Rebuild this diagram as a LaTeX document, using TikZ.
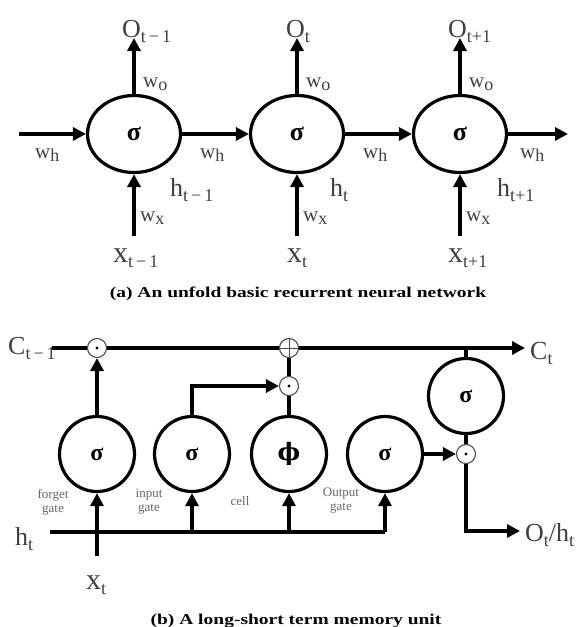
\documentclass[tikz,border=0pt]{standalone}
\usepackage{fontspec}
\setmainfont{Liberation Serif}
\newfontfamily\dvserif{DejaVu Serif}
\usetikzlibrary{arrows.meta,shapes.geometric}
\newcommand\lsb[1]{\raisebox{-5pt}{\fontsize{18}{18}\selectfont #1}}
\newcommand\wsb[1]{\raisebox{-3pt}{\fontsize{18}{18}\selectfont #1}}
\newcommand\mn{\,−\,}
\begin{document}
\begin{tikzpicture}[x=1pt,y=-1pt,
 ell/.style={ellipse, draw, line width=3.2pt, minimum width=93pt, minimum height=77pt, inner sep=0,
   font=\bfseries\fontsize{26}{26}\selectfont},
 gate/.style={circle, draw, line width=3.2pt, minimum size=75pt, inner sep=0,
   font=\bfseries\fontsize{24}{24}\selectfont},
 op/.style={circle, draw=black!70, line width=1.1pt, minimum size=19pt, inner sep=0, fill=white},
 arr/.style={line width=3.2pt, -{Triangle[length=13pt,width=13pt]}},
 ln/.style={line width=3.2pt},
 lbl/.style={text=black!75, font=\fontsize{26}{26}\selectfont, inner sep=0},
 xl/.style={text=black!75, font=\fontsize{30}{30}\selectfont, inner sep=0},
 wl/.style={text=black!75, font=\fontsize{21}{21}\selectfont, inner sep=0},
 tinyl/.style={text=black!60, font=\fontsize{13}{14}\selectfont, align=center, inner sep=0},
 capt/.style={font=\bfseries\fontsize{15}{15}\selectfont, inner sep=0}
]
\useasboundingbox (0,0) rectangle (581,627);

% ---------- (a) RNN ----------
\node[ell] (e1) at (134,134) {σ};
\node[ell] (e2) at (297,134) {σ};
\node[ell] (e3) at (460,134) {σ};
\coordinate (inL) at (19,134);
\coordinate (outR) at (568,134);
\foreach \n/\x in {1/134,2/297,3/460}{
  \coordinate (o\n) at (\x,38);
  \coordinate (xb\n) at (\x,236);
}
\draw[arr] (inL) -- (e1.west);
\draw[arr] (e1.east) -- (e2.west);
\draw[arr] (e2.east) -- (e3.west);
\draw[arr] (e3.east) -- (outR);
\foreach \n in {1,2,3}{
  \draw[arr] (e\n.north) -- (o\n);
  \draw[arr] (xb\n) -- (e\n.south);
}
% labels
\node[lbl, anchor=base west] (lo1) at (122,37) {O\lsb{t\mn1}};
\node[lbl, anchor=base west] (lo2) at (286,37) {O\lsb{t}};
\node[lbl, anchor=base west] (lo3) at (448,37) {O\lsb{t+1}};
\foreach \n/\x in {1/134,2/297,3/460}{
  \node[wl, anchor=base west] (lwo\n) at (\x+9,87) {w\wsb{o}};
  \node[wl, anchor=base west] (lwx\n) at (\x+6,221) {w\wsb{x}};
}
\node[wl, anchor=base west] (lwh0) at (35,158) {w\wsb{h}};
\node[wl, anchor=base west] (lwh1) at (200,158) {w\wsb{h}};
\node[wl, anchor=base west] (lwh2) at (363,158) {w\wsb{h}};
\node[wl, anchor=base west] (lwh3) at (520,158) {w\wsb{h}};
\node[lbl, anchor=base west] (lh1) at (170,196) {h\lsb{t\mn1}};
\node[lbl, anchor=base west] (lh2) at (330,196) {h\lsb{t}};
\node[lbl, anchor=base west] (lh3) at (497,196) {h\lsb{t+1}};
\node[xl, anchor=base west] (lx1) at (113,262) {x\lsb{t\mn1}};
\node[xl, anchor=base west] (lx2) at (287,262) {x\lsb{t}};
\node[xl, anchor=base west] (lx3) at (448,262) {x\lsb{t+1}};
\node[capt, anchor=base] (capa) at (298,297) {\scalebox{1.3}[1]{(a) An unfold basic recurrent neural network}};

% ---------- (b) LSTM ----------
\node[gate] (g1) at (97,454) {σ};
\node[gate] (g2) at (192,454) {σ};
\node[gate] (g3) at (289,454) {\dvserif\bfseries ϕ};
\node[gate] (g4) at (385,454) {σ};
\node[gate] (g5) at (466,396) {σ};
\coordinate (cstart) at (52,348);
\coordinate (cend) at (525,348);
\coordinate (ctap) at (466,348);
\coordinate (hstart) at (50,532);
\coordinate (hcorner) at (385,532);
\coordinate (tap2) at (192,532);
\coordinate (tap3) at (289,532);
\coordinate (xt) at (97,556);
\coordinate (outend) at (520,531);

\draw[ln] (cstart) -- (ctap);
\draw[arr] (ctap) -- (cend);
\draw[ln] (g5.north) -- (ctap);
\draw[ln] (hstart) -- (hcorner);
\draw[arr] (hcorner) -- (g4.south);
\draw[arr] (tap2) -- (g2.south);
\draw[arr] (tap3) -- (g3.south);
\draw[arr] (xt) -- (g1.south);

\node[op] (fm) at (97,348) {};
\node[op] (pl) at (289,348) {};
\node[op] (im) at (289,386) {};
\node[op] (om) at (466,454) {};
\fill (fm) circle (1.7pt);
\fill (im) circle (1.7pt);
\fill (om) circle (1.7pt);
\draw[black!70, line width=1pt] (pl.north) -- (pl.south) (pl.west) -- (pl.east);

\draw[arr] (g1.north) -- (fm.south);
\draw[arr] (g2.north) |- (im.west);
\draw[ln] (g3.north) -- (im.south);
\draw[ln] (im.north) -- (pl.south);
\draw[ln] (g5.south) -- (om.north);
\draw[arr] (g4.east) -- (om.west);
\draw[arr] (om.south) |- (outend);

\node[lbl, anchor=base west] (lc1) at (8,354) {C\lsb{t\mn1}};
\node[lbl, anchor=base west] (lc2) at (530,359) {C\lsb{t}};
\node[lbl, anchor=base west] (lht) at (15,545) {h\lsb{t}};
\node[xl, anchor=base west] (lxt) at (86,589) {x\lsb{t}};
\node[lbl, anchor=base west] (lout) at (525,541) {O\lsb{t}/h\lsb{t}};

\node[tinyl] (tf) at (53,502) {forget\\gate};
\node[tinyl] (ti) at (149,502) {input\\gate};
\node[tinyl] (tc) at (240,501) {cell};
\node[tinyl] (to) at (341,501) {Output\\gate};

\node[capt, anchor=base] (capb) at (296,624) {\scalebox{1.3}[1]{(b) A long-short term memory unit}};
\end{tikzpicture}
\end{document}
